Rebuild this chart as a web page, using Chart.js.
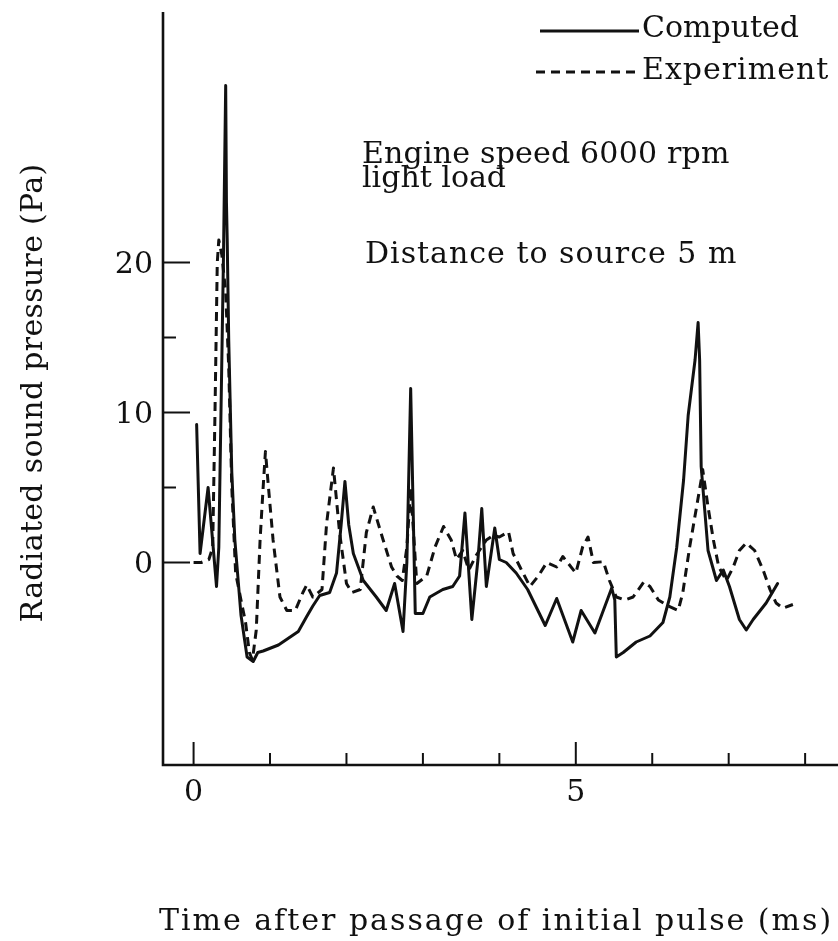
<!DOCTYPE html>
<html>
<head>
<meta charset="utf-8">
<title>Radiated sound pressure</title>
<script src="https://cdn.jsdelivr.net/npm/chart.js@4.4.1/dist/chart.umd.min.js"></script>
<style>
    html, body { margin: 0; padding: 0; background: #fff; }
    #grafica { display: block; }
</style>
</head>
<body>
<canvas id="grafica" width="838" height="941"></canvas>
<script>
// Computed (solid line)
const tiempoCalculado = [0.04, 0.085, 0.19, 0.30, 0.33, 0.39, 0.42, 0.43, 0.44, 0.46,
    0.50, 0.54, 0.62, 0.70, 0.78, 0.84, 0.91, 1.11, 1.37, 1.48,
    1.56, 1.65, 1.78, 1.87, 1.93, 1.98, 2.03, 2.09, 2.22, 2.39,
    2.52, 2.63, 2.74, 2.79, 2.84, 2.90, 3.00, 3.09, 3.26, 3.39,
    3.48, 3.55, 3.64, 3.72, 3.77, 3.83, 3.94, 4.00, 4.09, 4.22,
    4.37, 4.60, 4.75, 4.96, 5.07, 5.25, 5.47, 5.51, 5.53, 5.62,
    5.79, 5.97, 6.14, 6.23, 6.32, 6.41, 6.47, 6.56, 6.60, 6.62,
    6.64, 6.73, 6.84, 6.93, 7.01, 7.14, 7.23, 7.32, 7.49, 7.64];
const presionCalculada = [9.2, 0.6, 5.0, -1.6, 1.0, 20, 31.8, 24, 21.5, 14.8,
    6, 1.5, -3.5, -6.3, -6.6, -6.0, -5.9, -5.5, -4.6, -3.6,
    -2.9, -2.2, -2.0, -0.7, 2.5, 5.4, 2.5, 0.6, -1.2, -2.3,
    -3.2, -1.4, -4.6, 0, 11.6, -3.4, -3.4, -2.3, -1.8, -1.6,
    -0.9, 3.3, -3.8, 0.2, 3.6, -1.6, 2.3, 0.2, 0, -0.7,
    -1.8, -4.2, -2.4, -5.3, -3.2, -4.7, -1.7, -2.5, -6.3, -6.0,
    -5.3, -4.9, -4.0, -2.3, 1.0, 5.5, 9.8, 13.5, 16.0, 13.5,
    6.4, 0.8, -1.2, -0.5, -1.6, -3.8, -4.5, -3.8, -2.7, -1.4];

// Experiment (dashed line)
const tiempoExperimento = [0.0, 0.10, 0.20, 0.25, 0.28, 0.31, 0.33, 0.37, 0.42, 0.46,
    0.50, 0.55, 0.62, 0.68, 0.73, 0.77, 0.82, 0.87, 0.91, 0.94,
    0.98, 1.04, 1.13, 1.22, 1.33, 1.43, 1.48, 1.56, 1.68, 1.74,
    1.83, 1.91, 2.00, 2.07, 2.18, 2.26, 2.35, 2.48, 2.59, 2.66,
    2.73, 2.79, 2.84, 2.92, 3.05, 3.16, 3.27, 3.37, 3.44, 3.52,
    3.60, 3.70, 3.83, 3.92, 4.00, 4.12, 4.18, 4.27, 4.40, 4.51,
    4.62, 4.75, 4.83, 5.00, 5.09, 5.16, 5.23, 5.36, 5.44, 5.53,
    5.64, 5.75, 5.89, 5.97, 6.08, 6.21, 6.34, 6.40, 6.49, 6.58,
    6.64, 6.66, 6.73, 6.80, 6.87, 6.97, 7.06, 7.14, 7.23, 7.34,
    7.45, 7.54, 7.62, 7.71, 7.84];
const presionExperimento = [0, 0, 0.2, 1, 10, 20, 21.5, 20.5, 18, 13,
    5, -0.7, -2.5, -4, -6, -6.5, -4.5, 1.5, 5, 7.4,
    5, 1.5, -2.3, -3.2, -3.2, -2.0, -1.5, -2.3, -1.8, 2.6,
    6.3, 2.0, -1.4, -2.0, -1.8, 2.0, 3.7, 1.5, -0.3, -0.9,
    -1.2, 1, 5, -1.4, -0.9, 1.05, 2.4, 1.5, 0.2, 0.8,
    -0.5, 0.5, 1.5, 1.8, 1.7, 2.05, 0.6, -0.3, -1.6, -0.9,
    0, -0.3, 0.4, -0.7, 1.05, 1.7, 0, 0.05, -1.2, -2.3,
    -2.5, -2.3, -1.3, -1.6, -2.5, -2.9, -3.2, -2.0, 1.05, 3.7,
    5.5, 6.2, 3.7, 1.5, -0.3, -1.2, -0.3, 0.8, 1.3, 0.8,
    -0.5, -1.8, -2.7, -3.05, -2.8];

const ticksX = [0, 1, 2, 3, 4, 5, 6, 7, 8];
const etiquetasX = [0, 5];
const ticksY = [0, 5, 10, 15, 20];
const etiquetasY = [0, 10, 20];

const notas = ['Engine speed 6000 rpm', 'light load', 'Distance to source 5 m'];
const nombresSeries = ['Computed', 'Experiment'];
const tituloX = 'Time after passage of initial pulse (ms)';
const tituloY = 'Radiated sound pressure (Pa)';

const TINTA = '#111';
const FUENTE = '"DejaVu Serif", serif';
const GUION = [9, 6];

function aPuntos(xs, ys) {
    return xs.map((t, i) => ({ x: t, y: ys[i] }));
}

function texto(ctx, cadena, x, y, espacio) {
    ctx.letterSpacing = espacio + 'px';
    ctx.fillText(cadena, x, y);
    ctx.letterSpacing = '0px';
}

const ejesPlugin = {
    id: 'ejes',
    beforeDraw(chart) {
        const ctx = chart.ctx;
        ctx.save();
        ctx.fillStyle = '#fff';
        ctx.fillRect(0, 0, chart.width, chart.height);
        ctx.restore();
    },
    afterDraw(chart) {
        const { ctx, chartArea, scales: { x, y } } = chart;
        ctx.save();
        ctx.strokeStyle = TINTA;
        ctx.fillStyle = TINTA;
        ctx.lineCap = 'butt';

        // ejes
        ctx.lineWidth = 2.6;
        ctx.beginPath();
        ctx.moveTo(chartArea.left, chartArea.top);
        ctx.lineTo(chartArea.left, chartArea.bottom);
        ctx.lineTo(chartArea.right, chartArea.bottom);
        ctx.stroke();

        // marcas hacia adentro
        ctx.lineWidth = 2;
        ticksY.forEach(v => {
            const py = y.getPixelForValue(v);
            const largo = etiquetasY.includes(v) ? 27 : 13;
            ctx.beginPath();
            ctx.moveTo(chartArea.left, py);
            ctx.lineTo(chartArea.left + largo, py);
            ctx.stroke();
        });
        ticksX.forEach(v => {
            const px = x.getPixelForValue(v);
            const largo = etiquetasX.includes(v) ? 23 : 12;
            ctx.beginPath();
            ctx.moveTo(px, chartArea.bottom);
            ctx.lineTo(px, chartArea.bottom - largo);
            ctx.stroke();
        });

        // etiquetas de las marcas
        ctx.font = `30px ${FUENTE}`;
        ctx.textAlign = 'right';
        ctx.textBaseline = 'middle';
        etiquetasY.forEach(v => {
            ctx.fillText(String(v), 153, y.getPixelForValue(v) + 3);
        });
        ctx.textAlign = 'center';
        ctx.textBaseline = 'top';
        etiquetasX.forEach(v => {
            ctx.fillText(String(v), x.getPixelForValue(v), chartArea.bottom + 13);
        });

        // titulos de ejes
        ctx.textBaseline = 'alphabetic';
        texto(ctx, tituloX, 496, 930, 2);
        ctx.save();
        ctx.translate(42, 393);
        ctx.rotate(-Math.PI / 2);
        texto(ctx, tituloY, 0, 0, 0.3);
        ctx.restore();

        // notas
        ctx.textAlign = 'left';
        texto(ctx, notas[0], 362, 163, 0.2);
        texto(ctx, notas[1], 362, 187, 0);
        texto(ctx, notas[2], 365, 263, 1);

        // leyenda
        texto(ctx, nombresSeries[0], 642, 37, 0);
        texto(ctx, nombresSeries[1], 642, 79, 1);
        ctx.lineWidth = 3;
        ctx.beginPath();
        ctx.moveTo(540, 31);
        ctx.lineTo(639, 31);
        ctx.stroke();
        ctx.setLineDash(GUION);
        ctx.beginPath();
        ctx.moveTo(536, 72);
        ctx.lineTo(638, 72);
        ctx.stroke();

        ctx.restore();
    }
};

new Chart(document.getElementById('grafica'), {
    type: 'line',
    data: {
        datasets: [
            {
                label: nombresSeries[0],
                data: aPuntos(tiempoCalculado, presionCalculada),
                borderColor: TINTA,
                borderWidth: 3,
                pointRadius: 0,
                tension: 0,
                borderJoinStyle: 'round',
                borderCapStyle: 'round'
            },
            {
                label: nombresSeries[1],
                data: aPuntos(tiempoExperimento, presionExperimento),
                borderColor: TINTA,
                borderWidth: 3,
                borderDash: GUION,
                pointRadius: 0,
                tension: 0,
                borderJoinStyle: 'round'
            }
        ]
    },
    options: {
        responsive: false,
        animation: false,
        devicePixelRatio: 1,
        layout: { padding: { left: 163, top: 12, right: 0, bottom: 176 } },
        plugins: { legend: { display: false }, tooltip: { enabled: false } },
        scales: {
            x: { type: 'linear', min: -0.4, max: 8.43, display: false },
            y: { type: 'linear', min: -13.5, max: 36.7, display: false }
        }
    },
    plugins: [ejesPlugin]
});
</script>
</body>
</html>
